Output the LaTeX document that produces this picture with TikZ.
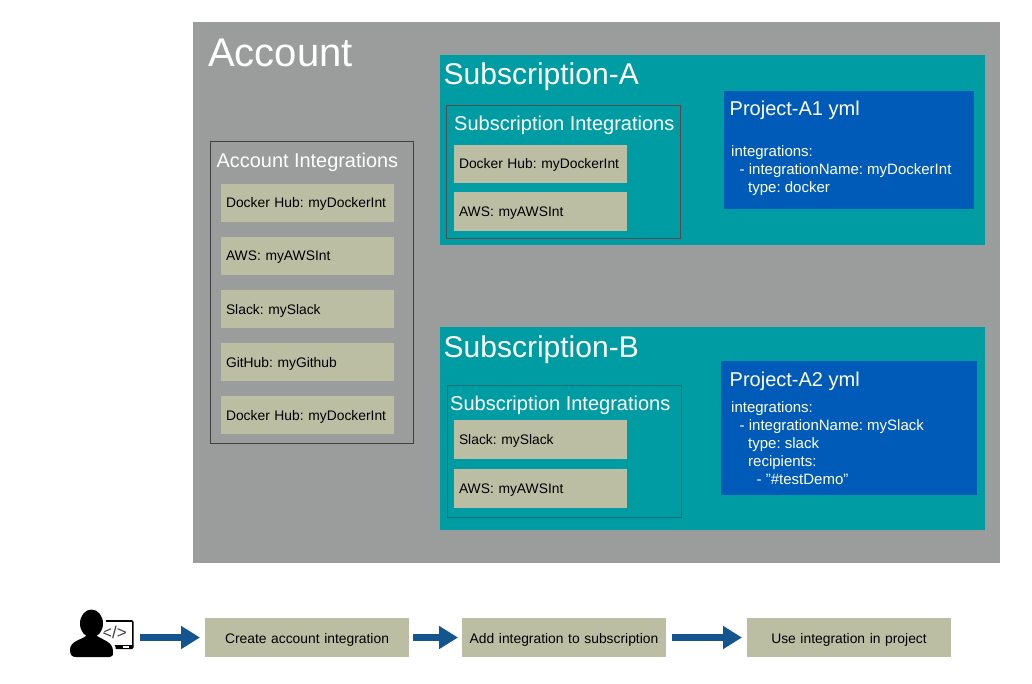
\documentclass[tikz,border=0pt]{standalone}
\usepackage{fontspec}
\setmainfont{Liberation Sans}
\usetikzlibrary{arrows.meta}
\definecolor{acct}{HTML}{9A9D9B}
\definecolor{teal1}{HTML}{009CA3}
\definecolor{proj}{HTML}{005BB8}
\definecolor{khaki}{HTML}{BCBEA3}
\definecolor{flow}{HTML}{14558F}
\definecolor{edgeA}{HTML}{5A4A50}
\definecolor{edgeB}{HTML}{0A6E73}
\newcommand{\fs}[1]{\fontsize{#1}{#1}\selectfont\frenchspacing\hyphenpenalty=10000 }
\newcommand{\pbox}[7][]{% style, name, x1,y1,x2,y2, text
  \pgfmathsetmacro{\bw}{#5-#3}\pgfmathsetmacro{\bh}{#6-#4}\pgfmathsetmacro{\tw}{#5-#3-10}
  \node[boxbase,#1,minimum width=\bw pt,minimum height=\bh pt,text width=\tw pt] (#2) at (#3,#4) {#7};}
\newcommand{\bodypath}{(86,636) .. controls (81,640) and (70,641) .. (70,650) .. controls (70,655) and (72,657) .. (76,657)
  -- (110,657) .. controls (113,657) and (113,655) .. (113,651) .. controls (113,642) and (103,640) .. (97,636) -- cycle}
\tikzset{
  x=1pt,y=-1pt,
  boxbase/.style={anchor=north west,inner xsep=5pt,inner ysep=0pt,outer sep=0pt,align=left},
  account/.style={fill=acct},
  subbox/.style={fill=teal1},
  projbox/.style={fill=proj},
  groupA/.style={draw=edgeA,line width=0.8pt},
  groupB/.style={draw=edgeB,line width=0.8pt},
  groupC/.style={draw=black!75,line width=0.8pt},
  item/.style={fill=khaki,font=\fs{13.85},text=black,text height=10pt,text depth=0pt},
  stepitem/.style={item,font=\fs{13.85},align=center,text height=11pt},
  title/.style={anchor=base west,inner sep=0pt,text=white},
  code/.style={anchor=north west,inner sep=0pt,text=white,align=left,font=\fontsize{15}{18}\selectfont\frenchspacing},
  flowarrow/.style={draw=flow,line width=6.5pt,-{Triangle[length=19pt,width=22pt]}},
}
\begin{document}
\begin{tikzpicture}
\useasboundingbox (0,0) rectangle (1032,684);
\fill[white] (0,0) rectangle (1032,684);
\pbox[account]{acc}{193}{22}{1000}{563}{}
\node[title,font=\fs{40}] (acct) at (208,67) {Account};
% account integrations
\pbox[groupC]{ai}{210.5}{141.5}{413.5}{443.5}{}
\node[title,font=\fs{19.9}] (ait) at (216.5,168) {Account Integrations};
\pbox[item]{a1}{221}{184}{394}{222}{Docker Hub: myDockerInt}
\pbox[item]{a2}{221}{237}{394}{275}{AWS: myAWSInt}
\pbox[item]{a3}{221}{290}{394}{328}{Slack: mySlack}
\pbox[item]{a4}{221}{343}{394}{381}{GitHub: myGithub}
\pbox[item]{a5}{221}{396}{394}{434}{Docker Hub: myDockerInt}
% subscription A
\pbox[subbox]{sa}{440}{55}{985}{245}{}
\node[title,font=\fs{30}] (sat) at (443.5,85) {Subscription-A};
\pbox[groupA]{sia}{446.5}{105.5}{680.5}{238.5}{}
\node[title,font=\fs{20}] (siat) at (454,131) {Subscription Integrations};
\pbox[item]{sa1}{454}{145}{627}{183}{Docker Hub: myDockerInt}
\pbox[item]{sa2}{454}{192}{627}{231}{AWS: myAWSInt}
\pbox[projbox]{pa}{724}{91}{974}{209}{}
\node[title,font=\fs{20}] (pat) at (729.5,116) {Project-A1 yml};
\node[code] (pac) at (731,145.5) {integrations:\\\hspace*{8.5pt}- integrationName: myDockerInt\\\hspace*{17pt}type: docker};
% subscription B
\pbox[subbox]{sb}{440}{327}{985}{530}{}
\node[title,font=\fs{30}] (sbt) at (443.5,357) {Subscription-B};
\pbox[groupB]{sib}{447.5}{385.5}{681.5}{517.5}{}
\node[title,font=\fs{20}] (sibt) at (450,410) {Subscription Integrations};
\pbox[item]{sb1}{454}{420}{627}{459}{Slack: mySlack}
\pbox[item]{sb2}{454}{469}{627}{508}{AWS: myAWSInt}
\pbox[projbox]{pb}{721}{361}{977}{495}{}
\node[title,font=\fs{20}] (pbt) at (729.5,386) {Project-A2 yml};
\node[code] (pbc) at (731,401.5) {integrations:\\\hspace*{8.5pt}- integrationName: mySlack\\\hspace*{17pt}type: slack\\\hspace*{17pt}recipients:\\\hspace*{25.5pt}- \symbol{34}\#testDemo\symbol{34}};
% bottom flow
\pbox[stepitem]{s1}{205}{618}{409}{657}{Create account integration}
\pbox[stepitem]{s2}{462}{618}{666}{657}{Add integration to subscription}
\pbox[stepitem]{s3}{747}{618}{951}{657}{Use integration in project}
% user icon
\node[anchor=north west,inner sep=0pt,outer sep=0pt,minimum width=63pt,minimum height=38pt] (user) at (70,618.5) {};
\fill[black,rounded corners=1.5pt] (100,620) rectangle (133.5,649);
\fill[white] (102,622) rectangle (131.5,645);
\fill[white] (123,646) rectangle (129,647.5);
\node[inner sep=0pt,font=\fs{17},text=black!75] (code) at (114.5,632.5) {</>};
\path[fill=black,draw=white,line width=6pt,line join=round] \bodypath;
\path[fill=black,draw=white,line width=6pt] (91.5,623.5) ellipse [x radius=11.5, y radius=14];
\fill[black] \bodypath;
\fill[black] (91.5,623.5) ellipse [x radius=11.5, y radius=14];
% arrows
\draw[flowarrow,shorten <=7pt,shorten >=5pt] (user.east) -- (s1.west);
\draw[flowarrow,shorten <=4pt,shorten >=4pt] (s1) -- (s2);
\draw[flowarrow,shorten <=6pt,shorten >=5pt] (s2) -- (s3);
\end{tikzpicture}
\end{document}
